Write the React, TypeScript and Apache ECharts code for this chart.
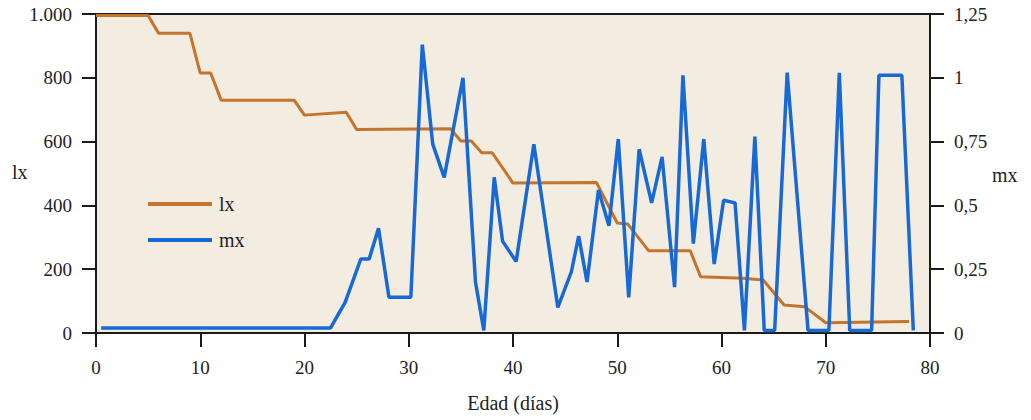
import React, { useEffect, useRef } from "react";
import * as echarts from "echarts";

// lx: survivors (left axis), [day, value]
const lxDays = [0, 5, 6, 9, 10, 11, 12, 19, 20, 24, 25, 34, 35, 36, 37, 38, 40, 48, 50, 51, 53, 57, 58, 62, 64, 66, 68, 70, 78];
const lxValues = [995, 995, 940, 940, 815, 815, 730, 730, 683, 692, 638, 640, 602, 602, 565, 565, 470, 472, 345, 342, 258, 258, 176, 172, 166, 88, 82, 32, 36];

// mx: mortality (right axis), [day, value]
const mxDays = [0.5, 22.5, 23.9, 25.4, 26.2, 27.1, 28.1, 30.2, 31.3, 32.3, 33.4, 35.2, 36.4, 37.2, 38.2, 39, 40.3, 42, 44.3, 45.6, 46.3, 47.1, 48.2, 49.2, 50.1, 51.1, 52.1, 53.3, 54.3, 55.5, 56.3, 57.3, 58.3, 59.3, 60.2, 61.3, 62.2, 63.2, 64.1, 65.1, 66.3, 68.3, 70.3, 71.3, 72.3, 74.4, 75.1, 77.3, 78.4];
const mxValues = [0.02, 0.02, 0.12, 0.29, 0.29, 0.41, 0.14, 0.14, 1.13, 0.74, 0.61, 1.0, 0.2, 0.01, 0.61, 0.36, 0.28, 0.74, 0.1, 0.24, 0.38, 0.2, 0.56, 0.42, 0.76, 0.14, 0.72, 0.51, 0.69, 0.18, 1.01, 0.35, 0.76, 0.27, 0.52, 0.51, 0.01, 0.77, 0.01, 0.01, 1.02, 0.01, 0.01, 1.02, 0.01, 0.01, 1.01, 1.01, 0.01];

const xTicks = { min: 0, max: 80, interval: 10 };
const lxTicks = { min: 0, max: 1000, interval: 200 };
const mxTicks = { min: 0, max: 1.25, interval: 0.25 };

const FONT = "Liberation Serif";
const INK = "#1a1a1a";
const ORANGE = "#c4742c";
const BLUE = "#1769d6";

export default function App() {
  const ref = useRef<HTMLDivElement>(null);
  useEffect(() => {
    document.body.style.margin = "0";
    const chart = echarts.init(ref.current!, null, { renderer: "svg" });
    const axisLine = { show: true, lineStyle: { color: INK, width: 2 } };
    const axisTick = { show: true, inside: false, length: 14, lineStyle: { color: INK, width: 2 } };
    const label = { color: "#222", fontFamily: FONT, fontSize: 19 };
    chart.setOption({
      animation: false,
      backgroundColor: "#ffffff",
      grid: {
        left: 96,
        right: 101,
        top: 14,
        bottom: 87,
        containLabel: false,
        outerBoundsMode: "none",
        show: true,
        backgroundColor: "#f3ece0",
        borderColor: INK,
        borderWidth: 2,
      },
      legend: {
        orient: "vertical",
        left: 143,
        top: 189,
        itemWidth: 64,
        itemHeight: 4,
        itemGap: 16,
        icon: "rect",
        textStyle: { ...label, fontSize: 20, lineHeight: 20, padding: [0, 0, 0, 2] },
        data: ["lx", "mx"],
      },
      xAxis: {
        type: "value",
        ...xTicks,
        name: "Edad (días)",
        nameLocation: "middle",
        nameGap: 60,
        nameTextStyle: { ...label, fontSize: 20 },
        axisLine,
        axisTick,
        axisLabel: { ...label, margin: 25 },
        splitLine: { show: false },
      },
      yAxis: [
        {
          type: "value",
          position: "left",
          ...lxTicks,
          axisLine,
          axisTick,
          axisLabel: {
            ...label,
            margin: 24,
            formatter: (v: number) => (v >= 1000 ? v.toLocaleString("de-DE") : String(v)),
          },
          splitLine: { show: false },
        },
        {
          type: "value",
          position: "right",
          ...mxTicks,
          axisLine,
          axisTick,
          axisLabel: {
            ...label,
            margin: 24,
            formatter: (v: number) => String(v).replace(".", ","),
          },
          splitLine: { show: false },
        },
      ],
      graphic: [
        { type: "text", left: 12, top: 162, style: { text: "lx", font: `20px "${FONT}"`, fill: "#222" } },
        { type: "text", left: 992, top: 165, style: { text: "mx", font: `20px "${FONT}"`, fill: "#222" } },
      ],
      series: [
        {
          name: "lx",
          type: "line",
          yAxisIndex: 0,
          showSymbol: false,
          symbol: "none",
          color: ORANGE,
          lineStyle: { color: ORANGE, width: 3 },
          data: lxDays.map((d, i) => [d, lxValues[i]]),
          z: 2,
        },
        {
          name: "mx",
          type: "line",
          yAxisIndex: 1,
          showSymbol: false,
          symbol: "none",
          color: BLUE,
          lineStyle: { color: BLUE, width: 3.5 },
          data: mxDays.map((d, i) => [d, mxValues[i]]),
          z: 3,
        },
      ],
    });
    return () => chart.dispose();
  }, []);
  return <div ref={ref} style={{ position: "absolute", left: 0, top: 0, width: 1031, height: 420 }} />;
}
